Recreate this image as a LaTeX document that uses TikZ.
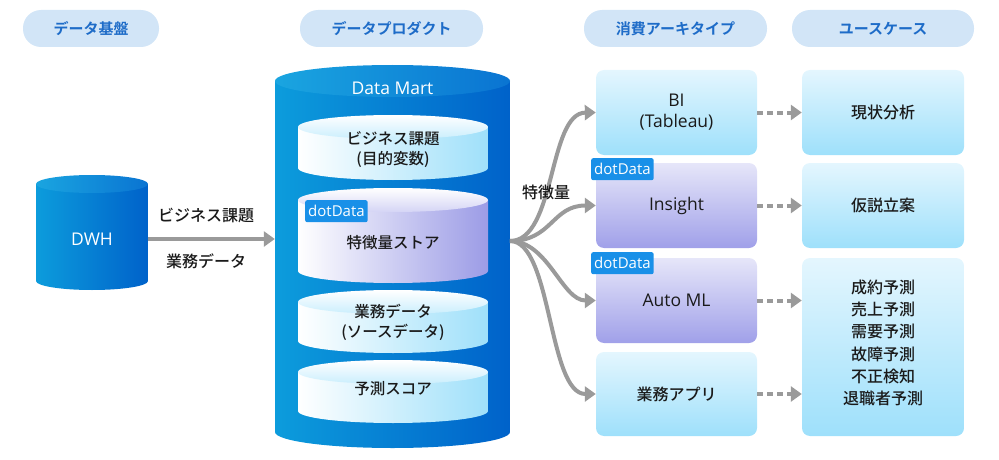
\documentclass[tikz,border=0pt]{standalone}
\usepackage{fontspec}
\setmainfont{Noto Sans CJK JP}[UprightFont=* Medium, BoldFont=* Bold]
\newfontfamily\latinfont{Open Sans}
\usetikzlibrary{arrows.meta}
\definecolor{pill}{HTML}{D2E5F7}
\definecolor{pilltext}{HTML}{1E6CC8}
\definecolor{cylL}{HTML}{0C9CDC}
\definecolor{cylR}{HTML}{0062CA}
\definecolor{cylTL}{HTML}{1AA5E0}
\definecolor{cylTR}{HTML}{0A74D2}
\definecolor{lbT}{HTML}{E4F6FE}
\definecolor{lbB}{HTML}{9EE0FB}
\definecolor{lpT}{HTML}{E6E6F9}
\definecolor{lpB}{HTML}{A0A0E9}
\definecolor{icylB}{HTML}{9FE0FA}
\definecolor{icylP}{HTML}{9C9CE6}
\definecolor{arrgray}{HTML}{9A9A9A}
\definecolor{tagblue}{HTML}{1990E8}
\definecolor{ink}{HTML}{1A1A1A}
\tikzset{
 pillbox/.style={fill=pill, rounded corners=18pt, minimum height=37pt, inner sep=0pt,
   text=pilltext, font=\fontsize{15}{17}\selectfont\bfseries},
 txt/.style={text=ink, font=\fontsize{16}{21}\selectfont, align=center, inner sep=0pt},
 itxt/.style={txt, font=\fontsize{15.5}{20}\selectfont},
 ltxt/.style={txt, font=\latinfont\fontsize{17.5}{21}\selectfont},
 wtxt/.style={text=white, font=\latinfont\fontsize{17.5}{21}\selectfont, inner sep=0pt},
 bluebox/.style={txt, rounded corners=8pt, top color=lbT, bottom color=lbB, minimum width=161pt},
 purplebox/.style={txt, rounded corners=8pt, top color=lpT, bottom color=lpB, minimum width=161pt},
 tag/.style={fill=tagblue, rounded corners=2pt, text=white, font=\latinfont\fontsize{15}{16}\selectfont,
   inner xsep=3pt, inner ysep=2pt, anchor=north west, minimum height=22pt},
 garrow/.style={draw=arrgray, line width=4pt, -{Triangle[length=11pt,width=15pt]}},
 darrow/.style={draw=arrgray, line width=4pt, dash pattern=on 6pt off 4pt, -{Triangle[length=11pt,width=15pt]}},
 anchorbox/.style={inner sep=0pt, draw=none, fill=none},
}
\newcommand\icyl[4]{%
 \shade[left color=white, right color=#3] (298,#1) -- (298,#2) arc[start angle=180,end angle=0,x radius=95,y radius=12] -- (488,#1) -- cycle;
 \shade[top color=white, bottom color=#4] (393,#1) ellipse[x radius=95,y radius=12];
}
\begin{document}
\begin{tikzpicture}[x=1pt,y=-1pt]
\useasboundingbox (0,0) rectangle (999,460);
% headers
\node[pillbox, minimum width=136pt] (h1) at (91,28.5) {データ基盤};
\node[pillbox, minimum width=183pt] (h2) at (391.5,28.5) {データプロダクト};
\node[pillbox, minimum width=183pt] (h3) at (675.5,28.5) {消費アーキタイプ};
\node[pillbox, minimum width=182pt] (h4) at (883,28.5) {ユースケース};
% DWH cylinder
\shade[left color=cylL, right color=cylR] (36,184) -- (36,281) arc[start angle=180,end angle=0,x radius=56,y radius=9] -- (148,184) -- cycle;
\shade[left color=cylTL, right color=cylTR] (92,184) ellipse[x radius=56,y radius=9];
\node[wtxt, minimum width=112pt] (dwh) at (92,239) {DWH};
% Data Mart cylinder
\shade[left color=cylL, right color=cylR] (275,81) -- (275,432) arc[start angle=180,end angle=0,x radius=117.5,y radius=16] -- (510,81) -- cycle;
\shade[left color=cylTL, right color=cylTR] (392.5,81) ellipse[x radius=117.5,y radius=16];
\node[anchorbox, minimum width=235pt, minimum height=367pt] (mart) at (392.5,256) {};
\node[wtxt] (martlabel) at (392.5,88) {Data Mart};
% inner cylinders
\icyl{127}{168}{icylB}{lbB!55!white}
\icyl{200}{271}{icylP}{lpB!45!white}
\icyl{302}{341}{icylB}{lbB!55!white}
\icyl{372}{411}{icylB}{lbB!55!white}
\node[itxt] (c1) at (393,150) {ビジネス課題\\(目的変数)};
\node[itxt] (c2) at (393,243) {特徴量ストア};
\node[itxt] (c3) at (393,322) {業務データ\\(ソースデータ)};
\node[itxt] (c4) at (393,389) {予測スコア};
\node[tag] (t1) at (305,200) {dotData};
% DWH -> mart
\draw[garrow] (dwh.east) -- (dwh.east -| mart.west);
\node[txt] (l1) at (206,216) {ビジネス課題};
\node[txt] (l2) at (206,261) {業務データ};
% consumption boxes
\node[bluebox, ltxt, minimum height=85pt] (bi) at (676.5,112.5) {BI\\(Tableau)};
\node[purplebox, ltxt, minimum height=85pt] (insight) at (676.5,205.5) {Insight};
\node[purplebox, ltxt, minimum height=85pt] (automl) at (676.5,300.5) {Auto ML};
\node[bluebox, minimum height=84pt] (app) at (676.5,394) {業務アプリ};
\node[tag] (t2) at (591,158) {dotData};
\node[tag] (t3) at (591,252) {dotData};
% use case boxes
\node[bluebox, minimum width=162pt, minimum height=85pt] (uc1) at (883,112.5) {現状分析};
\node[bluebox, minimum width=162pt, minimum height=85pt] (uc2) at (883,205.5) {仮説立案};
\node[bluebox, minimum width=162pt, minimum height=178pt] (uc3) at (883,347) {};
\node[txt, font=\fontsize{16}{22.2}\selectfont] (uc3text) at (883,343) {成約予測\\売上予測\\需要予測\\故障予測\\不正検知\\退職者予測};
% fan arrows
\coordinate (fan) at (510,241);
\draw[garrow] (fan) .. controls (556,241) and (548,113) .. (bi.west);
\draw[garrow] (fan) .. controls (552,241) and (552,205.5) .. (insight.west);
\draw[garrow] (fan) .. controls (548,241) and (562,300.5) .. (automl.west);
\draw[garrow] (fan) .. controls (552,241) and (548,394) .. (app.west);
\node[txt] (feat) at (546,192) {特徴量};
% dashed arrows
\draw[darrow] (bi.east) -- (bi.east -| uc1.west);
\draw[darrow] (insight.east) -- (insight.east -| uc2.west);
\draw[darrow] (automl.east) -- (automl.east -| uc3.west);
\draw[darrow] (app.east) -- (app.east -| uc3.west);
\end{tikzpicture}
\end{document}
